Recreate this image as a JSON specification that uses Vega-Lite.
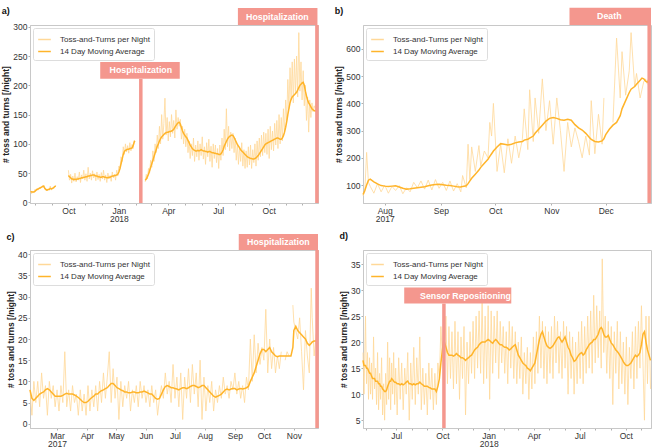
{
"$schema": "https://vega.github.io/schema/vega-lite/v6.json",
"padding": {"left": 1, "top": 6, "right": 3, "bottom": 0},
"background": "white",
"config": {
  "font": "Liberation Sans",
  "view": {"stroke": "#c8c8c8", "strokeWidth": 1},
  "axis": {"labelFontSize": 8.5, "labelColor": "#333333", "titleFontSize": 8.5, "titleFontWeight": "bold", "titleColor": "#222222", "domainColor": "#c8c8c8", "tickColor": "#b0b0b0", "grid": false, "labelLineHeight": 8.5, "labelOverlap": false, "labelFlush": false, "tickCount": 100},
  "axisX": {"tickSize": 2, "labelPadding": 1},
  "axisY": {"tickSize": 2, "labelPadding": 1, "titlePadding": 2, "format": "d"},
  "legend": {"orient": "top-left", "offset": 3, "strokeColor": "#dddddd", "fillColor": "white", "cornerRadius": 2, "padding": 4, "labelFontSize": 8, "labelColor": "#333333", "symbolType": "stroke", "symbolSize": 160, "symbolStrokeWidth": 1.5, "rowPadding": 0, "labelOffset": 8},
  "title": {"fontSize": 9, "fontWeight": "bold", "anchor": "start", "frame": "bounds", "color": "#111111"}
},
"resolve": {"scale": {"x": "independent", "y": "independent", "color": "independent"}, "legend": {"color": "independent"}},
"columns": 2,
"spacing": {"row": 7, "column": 13},
"datasets": {
"a": [
{"date":"2017-07-24","raw":20,"ma":19},{"date":"2017-07-26","raw":15,"ma":18},{"date":"2017-07-28","raw":19,"ma":18},{"date":"2017-07-30","raw":17,"ma":18},{"date":"2017-08-01","raw":22,"ma":19},{"date":"2017-08-03","raw":20,"ma":21},{"date":"2017-08-05","raw":24,"ma":22},{"date":"2017-08-07","raw":21,"ma":23},{"date":"2017-08-09","raw":26,"ma":24},{"date":"2017-08-11","raw":24,"ma":25},{"date":"2017-08-13","raw":27,"ma":26},{"date":"2017-08-15","raw":29,"ma":27},{"date":"2017-08-17","raw":26,"ma":28},{"date":"2017-08-19","raw":23,"ma":24},{"date":"2017-08-21","raw":21,"ma":22},{"date":"2017-08-23","raw":20,"ma":21},{"date":"2017-08-25","raw":23,"ma":22},{"date":"2017-08-27","raw":22,"ma":22},{"date":"2017-08-29","raw":28,"ma":24},{"date":"2017-08-31","raw":21,"ma":23},{"date":"2017-09-02","raw":24,"ma":24},{"date":"2017-09-04","raw":26,"ma":25},{"date":"2017-09-06","raw":27,"ma":27},{"date":"2017-09-08","raw":29,"ma":28},
{"date":"2017-09-20","raw":null,"ma":null},
{"date":"2017-10-01","raw":55,"ma":46},{"date":"2017-10-03","raw":38,"ma":44},{"date":"2017-10-05","raw":48,"ma":42},{"date":"2017-10-07","raw":33,"ma":40},{"date":"2017-10-09","raw":45,"ma":40},{"date":"2017-10-11","raw":36,"ma":39},{"date":"2017-10-13","raw":50,"ma":40},{"date":"2017-10-15","raw":35,"ma":39},{"date":"2017-10-17","raw":44,"ma":40},{"date":"2017-10-19","raw":38,"ma":40},{"date":"2017-10-21","raw":52,"ma":41},{"date":"2017-10-23","raw":34,"ma":41},{"date":"2017-10-25","raw":47,"ma":42},{"date":"2017-10-27","raw":40,"ma":42},{"date":"2017-10-29","raw":55,"ma":43},{"date":"2017-10-31","raw":38,"ma":43},{"date":"2017-11-02","raw":49,"ma":44},{"date":"2017-11-04","raw":36,"ma":44},{"date":"2017-11-06","raw":60,"ma":45},{"date":"2017-11-08","raw":40,"ma":45},{"date":"2017-11-10","raw":50,"ma":46},{"date":"2017-11-12","raw":38,"ma":46},{"date":"2017-11-14","raw":54,"ma":47},{"date":"2017-11-16","raw":42,"ma":47},{"date":"2017-11-18","raw":49,"ma":46},{"date":"2017-11-20","raw":37,"ma":45},{"date":"2017-11-22","raw":52,"ma":45},{"date":"2017-11-24","raw":39,"ma":44},{"date":"2017-11-26","raw":48,"ma":44},{"date":"2017-11-28","raw":36,"ma":43},{"date":"2017-11-30","raw":51,"ma":43},{"date":"2017-12-02","raw":40,"ma":44},{"date":"2017-12-04","raw":55,"ma":44},{"date":"2017-12-06","raw":38,"ma":43},{"date":"2017-12-08","raw":47,"ma":43},{"date":"2017-12-10","raw":34,"ma":42},{"date":"2017-12-12","raw":50,"ma":42},{"date":"2017-12-14","raw":40,"ma":43},{"date":"2017-12-16","raw":46,"ma":43},{"date":"2017-12-18","raw":36,"ma":44},{"date":"2017-12-20","raw":52,"ma":45},{"date":"2017-12-22","raw":42,"ma":45},{"date":"2017-12-24","raw":48,"ma":46},{"date":"2017-12-26","raw":38,"ma":46},{"date":"2017-12-28","raw":55,"ma":47},{"date":"2017-12-30","raw":45,"ma":48},{"date":"2018-01-01","raw":62,"ma":52},{"date":"2018-01-03","raw":58,"ma":58},{"date":"2018-01-05","raw":78,"ma":66},{"date":"2018-01-07","raw":70,"ma":74},{"date":"2018-01-09","raw":95,"ma":82},{"date":"2018-01-11","raw":82,"ma":87},{"date":"2018-01-13","raw":100,"ma":89},{"date":"2018-01-15","raw":86,"ma":90},{"date":"2018-01-17","raw":97,"ma":91},{"date":"2018-01-19","raw":84,"ma":91},{"date":"2018-01-21","raw":102,"ma":92},{"date":"2018-01-23","raw":88,"ma":92},{"date":"2018-01-25","raw":99,"ma":93},{"date":"2018-01-27","raw":92,"ma":97},{"date":"2018-01-29","raw":106,"ma":103},{"date":"2018-01-30","raw":104,"ma":105},
{"date":"2018-02-08","raw":null,"ma":null},
{"date":"2018-02-18","raw":35,"ma":38},{"date":"2018-02-20","raw":48,"ma":40},{"date":"2018-02-22","raw":40,"ma":44},{"date":"2018-02-24","raw":58,"ma":48},{"date":"2018-02-26","raw":50,"ma":54},{"date":"2018-02-28","raw":72,"ma":60},{"date":"2018-03-02","raw":60,"ma":66},{"date":"2018-03-04","raw":88,"ma":72},{"date":"2018-03-06","raw":70,"ma":78},{"date":"2018-03-08","raw":100,"ma":84},{"date":"2018-03-10","raw":85,"ma":90},{"date":"2018-03-12","raw":115,"ma":96},{"date":"2018-03-14","raw":92,"ma":100},{"date":"2018-03-16","raw":130,"ma":105},{"date":"2018-03-18","raw":100,"ma":109},{"date":"2018-03-20","raw":150,"ma":112},{"date":"2018-03-22","raw":108,"ma":114},{"date":"2018-03-24","raw":135,"ma":116},{"date":"2018-03-26","raw":178,"ma":118},{"date":"2018-03-28","raw":115,"ma":119},{"date":"2018-03-30","raw":145,"ma":120},{"date":"2018-04-01","raw":105,"ma":120},{"date":"2018-04-03","raw":138,"ma":121},{"date":"2018-04-05","raw":112,"ma":121},{"date":"2018-04-07","raw":150,"ma":122},{"date":"2018-04-09","raw":118,"ma":123},{"date":"2018-04-11","raw":140,"ma":125},{"date":"2018-04-13","raw":110,"ma":128},{"date":"2018-04-15","raw":158,"ma":131},{"date":"2018-04-17","raw":125,"ma":134},{"date":"2018-04-19","raw":145,"ma":136},{"date":"2018-04-21","raw":130,"ma":137},{"date":"2018-04-23","raw":142,"ma":134},{"date":"2018-04-25","raw":108,"ma":128},{"date":"2018-04-27","raw":130,"ma":122},{"date":"2018-04-29","raw":100,"ma":118},{"date":"2018-05-01","raw":125,"ma":115},{"date":"2018-05-03","raw":95,"ma":112},{"date":"2018-05-05","raw":118,"ma":110},{"date":"2018-05-07","raw":85,"ma":106},{"date":"2018-05-09","raw":105,"ma":102},{"date":"2018-05-11","raw":75,"ma":98},{"date":"2018-05-13","raw":100,"ma":95},{"date":"2018-05-15","raw":80,"ma":92},{"date":"2018-05-17","raw":110,"ma":90},{"date":"2018-05-19","raw":70,"ma":89},{"date":"2018-05-21","raw":98,"ma":88},{"date":"2018-05-23","raw":78,"ma":88},{"date":"2018-05-25","raw":105,"ma":89},{"date":"2018-05-27","raw":72,"ma":88},{"date":"2018-05-29","raw":100,"ma":89},{"date":"2018-05-31","raw":80,"ma":90},{"date":"2018-06-02","raw":112,"ma":89},{"date":"2018-06-04","raw":74,"ma":88},{"date":"2018-06-06","raw":95,"ma":88},{"date":"2018-06-08","raw":65,"ma":87},{"date":"2018-06-10","raw":102,"ma":87},{"date":"2018-06-12","raw":78,"ma":86},{"date":"2018-06-14","raw":108,"ma":87},{"date":"2018-06-16","raw":70,"ma":87},{"date":"2018-06-18","raw":96,"ma":86},{"date":"2018-06-20","raw":60,"ma":85},{"date":"2018-06-22","raw":100,"ma":85},{"date":"2018-06-24","raw":75,"ma":84},{"date":"2018-06-26","raw":98,"ma":84},{"date":"2018-06-28","raw":68,"ma":83},{"date":"2018-06-30","raw":92,"ma":83},{"date":"2018-07-02","raw":58,"ma":82},{"date":"2018-07-04","raw":98,"ma":82},{"date":"2018-07-06","raw":72,"ma":83},{"date":"2018-07-08","raw":110,"ma":86},{"date":"2018-07-10","raw":80,"ma":90},{"date":"2018-07-12","raw":125,"ma":96},{"date":"2018-07-14","raw":90,"ma":100},{"date":"2018-07-16","raw":160,"ma":104},{"date":"2018-07-18","raw":95,"ma":108},{"date":"2018-07-20","raw":130,"ma":111},{"date":"2018-07-22","raw":88,"ma":113},{"date":"2018-07-24","raw":120,"ma":114},{"date":"2018-07-26","raw":92,"ma":115},{"date":"2018-07-28","raw":118,"ma":114},{"date":"2018-07-30","raw":85,"ma":111},{"date":"2018-08-01","raw":110,"ma":107},{"date":"2018-08-03","raw":72,"ma":103},{"date":"2018-08-05","raw":100,"ma":99},{"date":"2018-08-07","raw":65,"ma":96},{"date":"2018-08-09","raw":95,"ma":93},{"date":"2018-08-11","raw":70,"ma":90},{"date":"2018-08-13","raw":102,"ma":88},{"date":"2018-08-15","raw":62,"ma":86},{"date":"2018-08-17","raw":90,"ma":84},{"date":"2018-08-19","raw":58,"ma":82},{"date":"2018-08-21","raw":88,"ma":80},{"date":"2018-08-23","raw":60,"ma":78},{"date":"2018-08-25","raw":95,"ma":77},{"date":"2018-08-27","raw":64,"ma":76},{"date":"2018-08-29","raw":98,"ma":75},{"date":"2018-08-31","raw":58,"ma":75},{"date":"2018-09-02","raw":90,"ma":74},{"date":"2018-09-04","raw":68,"ma":74},{"date":"2018-09-06","raw":100,"ma":75},{"date":"2018-09-08","raw":62,"ma":76},{"date":"2018-09-10","raw":105,"ma":78},{"date":"2018-09-12","raw":72,"ma":80},{"date":"2018-09-14","raw":110,"ma":83},{"date":"2018-09-16","raw":78,"ma":86},{"date":"2018-09-18","raw":115,"ma":89},{"date":"2018-09-20","raw":80,"ma":92},{"date":"2018-09-22","raw":120,"ma":95},{"date":"2018-09-24","raw":85,"ma":98},{"date":"2018-09-26","raw":118,"ma":100},{"date":"2018-09-28","raw":82,"ma":101},{"date":"2018-09-30","raw":125,"ma":102},{"date":"2018-10-02","raw":75,"ma":103},{"date":"2018-10-04","raw":130,"ma":104},{"date":"2018-10-06","raw":90,"ma":105},{"date":"2018-10-08","raw":122,"ma":106},{"date":"2018-10-10","raw":88,"ma":107},{"date":"2018-10-12","raw":135,"ma":108},{"date":"2018-10-14","raw":98,"ma":109},{"date":"2018-10-16","raw":140,"ma":110},{"date":"2018-10-18","raw":92,"ma":110},{"date":"2018-10-20","raw":150,"ma":109},{"date":"2018-10-22","raw":100,"ma":108},{"date":"2018-10-24","raw":145,"ma":108},{"date":"2018-10-26","raw":105,"ma":110},{"date":"2018-10-28","raw":160,"ma":114},{"date":"2018-10-30","raw":118,"ma":120},{"date":"2018-11-01","raw":175,"ma":128},{"date":"2018-11-03","raw":140,"ma":138},{"date":"2018-11-05","raw":210,"ma":150},{"date":"2018-11-07","raw":160,"ma":160},{"date":"2018-11-09","raw":230,"ma":170},{"date":"2018-11-11","raw":175,"ma":176},{"date":"2018-11-13","raw":240,"ma":180},{"date":"2018-11-15","raw":170,"ma":182},{"date":"2018-11-17","raw":245,"ma":184},{"date":"2018-11-19","raw":185,"ma":186},{"date":"2018-11-21","raw":250,"ma":188},{"date":"2018-11-23","raw":180,"ma":192},{"date":"2018-11-25","raw":290,"ma":196},{"date":"2018-11-27","raw":190,"ma":200},{"date":"2018-11-29","raw":240,"ma":202},{"date":"2018-12-01","raw":175,"ma":204},{"date":"2018-12-03","raw":225,"ma":205},{"date":"2018-12-05","raw":165,"ma":200},{"date":"2018-12-07","raw":200,"ma":190},{"date":"2018-12-09","raw":140,"ma":182},{"date":"2018-12-11","raw":180,"ma":175},{"date":"2018-12-13","raw":120,"ma":170},{"date":"2018-12-15","raw":175,"ma":167},{"date":"2018-12-17","raw":145,"ma":163},{"date":"2018-12-19","raw":170,"ma":160},{"date":"2018-12-21","raw":155,"ma":158},{"date":"2018-12-23","raw":165,"ma":157},{"date":"2018-12-25","raw":160,"ma":156},{"date":"2018-12-27","raw":175,"ma":158},{"date":"2018-12-29","raw":150,"ma":150}
],
"b": [
{"date":"2017-07-20","raw":60,"ma":65},{"date":"2017-07-21","raw":75,"ma":80},{"date":"2017-07-22","raw":220,"ma":100},{"date":"2017-07-23","raw":110,"ma":118},{"date":"2017-07-24","raw":95,"ma":122},{"date":"2017-07-26","raw":70,"ma":112},{"date":"2017-07-28","raw":105,"ma":104},{"date":"2017-07-30","raw":75,"ma":98},{"date":"2017-08-01","raw":100,"ma":96},{"date":"2017-08-03","raw":70,"ma":95},{"date":"2017-08-05","raw":95,"ma":96},{"date":"2017-08-07","raw":80,"ma":97},{"date":"2017-08-09","raw":98,"ma":93},{"date":"2017-08-11","raw":68,"ma":88},{"date":"2017-08-13","raw":90,"ma":85},{"date":"2017-08-15","raw":75,"ma":86},{"date":"2017-08-17","raw":110,"ma":88},{"date":"2017-08-19","raw":90,"ma":90},{"date":"2017-08-21","raw":115,"ma":92},{"date":"2017-08-23","raw":85,"ma":94},{"date":"2017-08-25","raw":118,"ma":97},{"date":"2017-08-27","raw":82,"ma":100},{"date":"2017-08-29","raw":120,"ma":102},{"date":"2017-08-31","raw":88,"ma":103},{"date":"2017-09-02","raw":110,"ma":101},{"date":"2017-09-04","raw":80,"ma":99},{"date":"2017-09-06","raw":115,"ma":98},{"date":"2017-09-08","raw":78,"ma":96},{"date":"2017-09-10","raw":105,"ma":94},{"date":"2017-09-12","raw":75,"ma":93},{"date":"2017-09-13","raw":135,"ma":95},{"date":"2017-09-15","raw":90,"ma":97},{"date":"2017-09-16","raw":250,"ma":105},{"date":"2017-09-17","raw":120,"ma":115},{"date":"2017-09-18","raw":240,"ma":125},{"date":"2017-09-20","raw":150,"ma":140},{"date":"2017-09-22","raw":245,"ma":155},{"date":"2017-09-23","raw":170,"ma":165},{"date":"2017-09-25","raw":225,"ma":180},{"date":"2017-09-27","raw":200,"ma":195},{"date":"2017-09-28","raw":330,"ma":205},{"date":"2017-09-29","raw":280,"ma":215},{"date":"2017-09-30","raw":400,"ma":225},{"date":"2017-10-02","raw":150,"ma":240},{"date":"2017-10-04","raw":250,"ma":252},{"date":"2017-10-06","raw":145,"ma":250},{"date":"2017-10-08","raw":270,"ma":247},{"date":"2017-10-10","raw":180,"ma":250},{"date":"2017-10-12","raw":280,"ma":255},{"date":"2017-10-14","raw":200,"ma":258},{"date":"2017-10-16","raw":270,"ma":260},{"date":"2017-10-17","raw":380,"ma":265},{"date":"2017-10-19","raw":230,"ma":268},{"date":"2017-10-20","raw":450,"ma":272},{"date":"2017-10-22","raw":260,"ma":280},{"date":"2017-10-23","raw":420,"ma":290},{"date":"2017-10-25","raw":290,"ma":305},{"date":"2017-10-27","raw":490,"ma":320},{"date":"2017-10-29","raw":300,"ma":335},{"date":"2017-10-31","raw":410,"ma":345},{"date":"2017-11-02","raw":250,"ma":348},{"date":"2017-11-04","raw":420,"ma":345},{"date":"2017-11-06","raw":300,"ma":340},{"date":"2017-11-08","raw":150,"ma":338},{"date":"2017-11-10","raw":330,"ma":342},{"date":"2017-11-12","raw":240,"ma":338},{"date":"2017-11-14","raw":310,"ma":322},{"date":"2017-11-16","raw":260,"ma":310},{"date":"2017-11-18","raw":200,"ma":302},{"date":"2017-11-20","raw":280,"ma":290},{"date":"2017-11-22","raw":210,"ma":275},{"date":"2017-11-23","raw":410,"ma":268},{"date":"2017-11-25","raw":215,"ma":260},{"date":"2017-11-27","raw":360,"ma":258},{"date":"2017-11-29","raw":250,"ma":262},{"date":"2017-11-30","raw":420,"ma":270},{"date":"2017-12-01","raw":null,"ma":285},{"date":"2017-12-03","raw":null,"ma":305},{"date":"2017-12-05","raw":330,"ma":320},{"date":"2017-12-07","raw":640,"ma":330},{"date":"2017-12-09","raw":420,"ma":355},{"date":"2017-12-10","raw":590,"ma":380},{"date":"2017-12-12","raw":430,"ma":410},{"date":"2017-12-14","raw":520,"ma":440},{"date":"2017-12-15","raw":660,"ma":452},{"date":"2017-12-17","raw":460,"ma":462},{"date":"2017-12-18","raw":510,"ma":470},{"date":"2017-12-20","raw":420,"ma":485},{"date":"2017-12-21","raw":450,"ma":493},{"date":"2017-12-22","raw":480,"ma":490},{"date":"2017-12-23","raw":490,"ma":482},{"date":"2017-12-24","raw":470,"ma":478},{"date":"2017-12-25","raw":null,"ma":490}
],
"c": [
{"date":"2017-02-01","raw":8,"ma":8},{"date":"2017-02-03","raw":2,"ma":6},{"date":"2017-02-05","raw":10,"ma":5.5},{"date":"2017-02-07","raw":5,"ma":6},{"date":"2017-02-09","raw":10,"ma":6.5},{"date":"2017-02-11","raw":4,"ma":7},{"date":"2017-02-13","raw":12,"ma":7.3},{"date":"2017-02-15","raw":6,"ma":7.5},{"date":"2017-02-17","raw":9,"ma":8},{"date":"2017-02-19","raw":2,"ma":8.3},{"date":"2017-02-21","raw":10,"ma":8},{"date":"2017-02-23","raw":6,"ma":7.5},{"date":"2017-02-25","raw":9,"ma":7},{"date":"2017-02-27","raw":4,"ma":6.5},{"date":"2017-03-01","raw":8,"ma":6.5},{"date":"2017-03-03","raw":3,"ma":6.5},{"date":"2017-03-05","raw":9,"ma":6.5},{"date":"2017-03-07","raw":5,"ma":6.7},{"date":"2017-03-09","raw":17,"ma":7},{"date":"2017-03-11","raw":4,"ma":7.2},{"date":"2017-03-13","raw":8,"ma":7},{"date":"2017-03-15","raw":3,"ma":7},{"date":"2017-03-17","raw":9,"ma":7},{"date":"2017-03-19","raw":5,"ma":6.8},{"date":"2017-03-21","raw":7,"ma":6.5},{"date":"2017-03-23","raw":2,"ma":6.2},{"date":"2017-03-25","raw":8,"ma":5.8},{"date":"2017-03-27","raw":3,"ma":5.3},{"date":"2017-03-29","raw":7,"ma":5},{"date":"2017-03-31","raw":2,"ma":5},{"date":"2017-04-02","raw":9,"ma":5.3},{"date":"2017-04-04","raw":3,"ma":5.8},{"date":"2017-04-06","raw":8,"ma":6.2},{"date":"2017-04-08","raw":4,"ma":6.5},{"date":"2017-04-10","raw":9,"ma":7},{"date":"2017-04-12","raw":3,"ma":7},{"date":"2017-04-14","raw":10,"ma":7.5},{"date":"2017-04-16","raw":5,"ma":7.8},{"date":"2017-04-18","raw":12,"ma":8},{"date":"2017-04-20","raw":6,"ma":8.3},{"date":"2017-04-22","raw":11,"ma":8.5},{"date":"2017-04-24","raw":17,"ma":9},{"date":"2017-04-26","raw":5,"ma":9.5},{"date":"2017-04-28","raw":13,"ma":9.5},{"date":"2017-04-30","raw":6,"ma":9},{"date":"2017-05-02","raw":11,"ma":8.5},{"date":"2017-05-04","raw":1,"ma":8.3},{"date":"2017-05-06","raw":10,"ma":8},{"date":"2017-05-08","raw":4,"ma":7.8},{"date":"2017-05-10","raw":9,"ma":7.5},{"date":"2017-05-12","raw":6,"ma":7.5},{"date":"2017-05-14","raw":10,"ma":7.3},{"date":"2017-05-16","raw":3,"ma":7.3},{"date":"2017-05-18","raw":8,"ma":7.5},{"date":"2017-05-20","raw":5,"ma":7.5},{"date":"2017-05-22","raw":9,"ma":7.3},{"date":"2017-05-24","raw":4,"ma":7.3},{"date":"2017-05-26","raw":10,"ma":7.5},{"date":"2017-05-28","raw":6,"ma":7.5},{"date":"2017-05-30","raw":9,"ma":7.7},{"date":"2017-06-01","raw":5,"ma":7.5},{"date":"2017-06-03","raw":8,"ma":7.3},{"date":"2017-06-05","raw":4,"ma":7},{"date":"2017-06-07","raw":9,"ma":7},{"date":"2017-06-09","raw":5,"ma":6.5},{"date":"2017-06-11","raw":8,"ma":6},{"date":"2017-06-13","raw":2,"ma":5.8},{"date":"2017-06-15","raw":6,"ma":6},{"date":"2017-06-17","raw":9,"ma":7},{"date":"2017-06-19","raw":6,"ma":8},{"date":"2017-06-21","raw":12,"ma":8.8},{"date":"2017-06-23","raw":7,"ma":9},{"date":"2017-06-25","raw":10,"ma":8.8},{"date":"2017-06-27","raw":5,"ma":8.5},{"date":"2017-06-29","raw":14,"ma":8.5},{"date":"2017-07-01","raw":6,"ma":8.3},{"date":"2017-07-03","raw":11,"ma":8.2},{"date":"2017-07-05","raw":4,"ma":8},{"date":"2017-07-07","raw":12,"ma":8.3},{"date":"2017-07-09","raw":1,"ma":8.5},{"date":"2017-07-11","raw":11,"ma":8.5},{"date":"2017-07-13","raw":6,"ma":8.3},{"date":"2017-07-15","raw":13,"ma":8.5},{"date":"2017-07-17","raw":5,"ma":8.8},{"date":"2017-07-19","raw":14,"ma":9},{"date":"2017-07-21","raw":7,"ma":9},{"date":"2017-07-23","raw":12,"ma":8.8},{"date":"2017-07-25","raw":4,"ma":8.5},{"date":"2017-07-27","raw":15,"ma":8.7},{"date":"2017-07-29","raw":1,"ma":9},{"date":"2017-07-31","raw":11,"ma":9},{"date":"2017-08-02","raw":3,"ma":8.5},{"date":"2017-08-04","raw":9,"ma":8},{"date":"2017-08-06","raw":5,"ma":7.5},{"date":"2017-08-08","raw":10,"ma":7},{"date":"2017-08-10","raw":3,"ma":6.5},{"date":"2017-08-12","raw":8,"ma":6.3},{"date":"2017-08-14","raw":5,"ma":6.5},{"date":"2017-08-16","raw":9,"ma":6.7},{"date":"2017-08-18","raw":6,"ma":7},{"date":"2017-08-20","raw":11,"ma":7.5},{"date":"2017-08-22","raw":7,"ma":8},{"date":"2017-08-24","raw":9,"ma":8.2},{"date":"2017-08-26","raw":6,"ma":8},{"date":"2017-08-28","raw":10,"ma":8.2},{"date":"2017-08-30","raw":8,"ma":8.3},{"date":"2017-09-01","raw":12,"ma":8.3},{"date":"2017-09-03","raw":7,"ma":8},{"date":"2017-09-05","raw":10,"ma":8.2},{"date":"2017-09-07","raw":6,"ma":8.3},{"date":"2017-09-09","raw":9,"ma":8.2},{"date":"2017-09-11","raw":5,"ma":8.3},{"date":"2017-09-13","raw":11,"ma":8.5},{"date":"2017-09-15","raw":8,"ma":8.8},{"date":"2017-09-17","raw":20,"ma":10},{"date":"2017-09-19","raw":10,"ma":11},{"date":"2017-09-21","raw":21,"ma":12},{"date":"2017-09-23","raw":12,"ma":13.5},{"date":"2017-09-25","raw":19,"ma":15},{"date":"2017-09-27","raw":14,"ma":16.5},{"date":"2017-09-29","raw":18,"ma":17.5},{"date":"2017-10-01","raw":15,"ma":17.5},{"date":"2017-10-03","raw":27,"ma":17},{"date":"2017-10-05","raw":12,"ma":17.5},{"date":"2017-10-07","raw":20,"ma":18},{"date":"2017-10-09","raw":13,"ma":17},{"date":"2017-10-11","raw":18,"ma":16.5},{"date":"2017-10-13","raw":12,"ma":16},{"date":"2017-10-15","raw":16,"ma":15.8},{"date":"2017-10-17","raw":13,"ma":16},{"date":"2017-10-19","raw":17,"ma":16},{"date":"2017-10-21","raw":null,"ma":16},{"date":"2017-10-23","raw":15,"ma":16},{"date":"2017-10-25","raw":17,"ma":16},{"date":"2017-10-27","raw":16,"ma":16},{"date":"2017-10-29","raw":null,"ma":16},{"date":"2017-10-31","raw":28,"ma":18},{"date":"2017-11-01","raw":24,"ma":22},{"date":"2017-11-03","raw":22,"ma":23},{"date":"2017-11-05","raw":20,"ma":22},{"date":"2017-11-07","raw":25,"ma":21.5},{"date":"2017-11-09","raw":17,"ma":21},{"date":"2017-11-11","raw":8,"ma":20.5},{"date":"2017-11-13","raw":22,"ma":20},{"date":"2017-11-15","raw":16,"ma":19},{"date":"2017-11-17","raw":12,"ma":18.5},{"date":"2017-11-19","raw":32,"ma":19},{"date":"2017-11-20","raw":25,"ma":19.3},{"date":"2017-11-22","raw":16,"ma":19.5},{"date":"2017-11-24","raw":21,"ma":19.5},{"date":"2017-11-25","raw":22,"ma":20}
],
"d": [
{"date":"2017-04-26","raw":18,"ma":16.5},{"date":"2017-04-28","raw":10,"ma":15.5},{"date":"2017-05-01","raw":25,"ma":15.5},{"date":"2017-05-03","raw":12,"ma":15},{"date":"2017-05-05","raw":18,"ma":15},{"date":"2017-05-07","raw":9,"ma":14.5},{"date":"2017-05-09","raw":17,"ma":14},{"date":"2017-05-11","raw":10,"ma":14},{"date":"2017-05-13","raw":16,"ma":13.5},{"date":"2017-05-15","raw":9,"ma":13},{"date":"2017-05-17","raw":21,"ma":13},{"date":"2017-05-19","raw":11,"ma":13},{"date":"2017-05-21","raw":15,"ma":12.5},{"date":"2017-05-23","raw":8,"ma":12.5},{"date":"2017-05-25","raw":18,"ma":12.5},{"date":"2017-05-27","raw":7,"ma":12},{"date":"2017-05-29","raw":14,"ma":12},{"date":"2017-05-31","raw":9,"ma":11.5},{"date":"2017-06-02","raw":17,"ma":11.5},{"date":"2017-06-04","raw":6,"ma":11},{"date":"2017-06-06","raw":12,"ma":10.8},{"date":"2017-06-08","raw":5,"ma":10.5},{"date":"2017-06-10","raw":14,"ma":10.5},{"date":"2017-06-12","raw":8,"ma":10.8},{"date":"2017-06-14","raw":20,"ma":11.5},{"date":"2017-06-16","raw":9,"ma":12},{"date":"2017-06-18","raw":17,"ma":12.5},{"date":"2017-06-20","raw":7,"ma":12.5},{"date":"2017-06-22","raw":16,"ma":13},{"date":"2017-06-24","raw":10,"ma":12.8},{"date":"2017-06-26","raw":18,"ma":12.5},{"date":"2017-06-28","raw":8,"ma":12.3},{"date":"2017-06-30","raw":15,"ma":12.3},{"date":"2017-07-03","raw":6,"ma":12},{"date":"2017-07-06","raw":17,"ma":12},{"date":"2017-07-09","raw":9,"ma":11.8},{"date":"2017-07-12","raw":16,"ma":12},{"date":"2017-07-15","raw":7,"ma":11.8},{"date":"2017-07-18","raw":15,"ma":12},{"date":"2017-07-21","raw":10,"ma":12.3},{"date":"2017-07-24","raw":18,"ma":12.5},{"date":"2017-07-27","raw":5,"ma":12},{"date":"2017-07-30","raw":16,"ma":12},{"date":"2017-08-02","raw":9,"ma":11.8},{"date":"2017-08-05","raw":19,"ma":12},{"date":"2017-08-08","raw":8,"ma":11.8},{"date":"2017-08-11","raw":17,"ma":12},{"date":"2017-08-14","raw":10,"ma":12},{"date":"2017-08-17","raw":21,"ma":12.3},{"date":"2017-08-20","raw":7,"ma":12},{"date":"2017-08-23","raw":15,"ma":11.8},{"date":"2017-08-26","raw":8,"ma":11.5},{"date":"2017-08-29","raw":14,"ma":11.5},{"date":"2017-09-01","raw":6,"ma":11.5},{"date":"2017-09-04","raw":16,"ma":11.3},{"date":"2017-09-07","raw":9,"ma":11.2},{"date":"2017-09-10","raw":15,"ma":11},{"date":"2017-09-13","raw":7,"ma":11},{"date":"2017-09-16","raw":14,"ma":11},{"date":"2017-09-19","raw":8,"ma":10.5},{"date":"2017-09-22","raw":16,"ma":11.5},{"date":"2017-09-25","raw":13,"ma":13},{"date":"2017-09-28","raw":23,"ma":16},{"date":"2017-10-01","raw":17,"ma":18.5},{"date":"2017-10-03","raw":22,"ma":20},{"date":"2017-10-05","raw":16,"ma":20},{"date":"2017-10-08","raw":25,"ma":19},{"date":"2017-10-11","raw":12,"ma":18},{"date":"2017-10-14","raw":23,"ma":17.5},{"date":"2017-10-17","raw":13,"ma":17.5},{"date":"2017-10-20","raw":22,"ma":17.5},{"date":"2017-10-23","raw":11,"ma":17.3},{"date":"2017-10-26","raw":24,"ma":17.5},{"date":"2017-10-29","raw":12,"ma":17.8},{"date":"2017-11-01","raw":22,"ma":17.5},{"date":"2017-11-04","raw":9,"ma":17.3},{"date":"2017-11-07","raw":21,"ma":17},{"date":"2017-11-10","raw":13,"ma":17},{"date":"2017-11-13","raw":23,"ma":16.8},{"date":"2017-11-16","raw":6,"ma":16.5},{"date":"2017-11-19","raw":20,"ma":16.8},{"date":"2017-11-22","raw":12,"ma":17},{"date":"2017-11-25","raw":22,"ma":17.3},{"date":"2017-11-28","raw":14,"ma":17.5},{"date":"2017-12-01","raw":24,"ma":18},{"date":"2017-12-04","raw":13,"ma":18.5},{"date":"2017-12-07","raw":25,"ma":18.8},{"date":"2017-12-10","raw":15,"ma":19},{"date":"2017-12-13","raw":26,"ma":19.5},{"date":"2017-12-16","raw":14,"ma":19.8},{"date":"2017-12-19","raw":28,"ma":20},{"date":"2017-12-22","raw":12,"ma":20},{"date":"2017-12-25","raw":25,"ma":20},{"date":"2017-12-28","raw":13,"ma":20.3},{"date":"2017-12-31","raw":27,"ma":20.5},{"date":"2018-01-03","raw":9,"ma":20.3},{"date":"2018-01-06","raw":26,"ma":20},{"date":"2018-01-09","raw":14,"ma":19.8},{"date":"2018-01-12","raw":25,"ma":20.2},{"date":"2018-01-15","raw":16,"ma":20.5},{"date":"2018-01-18","raw":26,"ma":20.2},{"date":"2018-01-21","raw":13,"ma":19.8},{"date":"2018-01-24","raw":24,"ma":19.5},{"date":"2018-01-27","raw":16,"ma":19.5},{"date":"2018-01-30","raw":23,"ma":19.2},{"date":"2018-02-02","raw":14,"ma":19},{"date":"2018-02-05","raw":22,"ma":19},{"date":"2018-02-08","raw":12,"ma":18.8},{"date":"2018-02-11","raw":24,"ma":18.5},{"date":"2018-02-14","raw":15,"ma":18.7},{"date":"2018-02-17","raw":23,"ma":19},{"date":"2018-02-20","raw":13,"ma":19.3},{"date":"2018-02-23","raw":22,"ma":19.5},{"date":"2018-02-26","raw":12,"ma":18.5},{"date":"2018-03-01","raw":20,"ma":17.5},{"date":"2018-03-04","raw":13,"ma":17},{"date":"2018-03-07","raw":21,"ma":16.5},{"date":"2018-03-10","raw":10,"ma":16},{"date":"2018-03-13","raw":18,"ma":15.7},{"date":"2018-03-16","raw":12,"ma":15.5},{"date":"2018-03-19","raw":19,"ma":15},{"date":"2018-03-22","raw":9,"ma":14.8},{"date":"2018-03-25","raw":18,"ma":14.5},{"date":"2018-03-28","raw":11,"ma":15},{"date":"2018-03-31","raw":21,"ma":15.5},{"date":"2018-04-03","raw":12,"ma":16},{"date":"2018-04-06","raw":22,"ma":17.5},{"date":"2018-04-09","raw":14,"ma":19},{"date":"2018-04-12","raw":25,"ma":20.5},{"date":"2018-04-15","raw":15,"ma":21.5},{"date":"2018-04-18","raw":24,"ma":22},{"date":"2018-04-21","raw":13,"ma":21},{"date":"2018-04-24","raw":23,"ma":20},{"date":"2018-04-27","raw":12,"ma":19.3},{"date":"2018-04-30","raw":22,"ma":19},{"date":"2018-05-03","raw":14,"ma":18.8},{"date":"2018-05-06","raw":23,"ma":19},{"date":"2018-05-09","raw":13,"ma":19.3},{"date":"2018-05-12","raw":25,"ma":19.8},{"date":"2018-05-15","raw":16,"ma":20.3},{"date":"2018-05-18","raw":24,"ma":20.8},{"date":"2018-05-21","raw":14,"ma":21},{"date":"2018-05-24","raw":22,"ma":20.5},{"date":"2018-05-27","raw":13,"ma":20},{"date":"2018-05-30","raw":24,"ma":20.5},{"date":"2018-06-02","raw":15,"ma":21},{"date":"2018-06-05","raw":23,"ma":20},{"date":"2018-06-08","raw":10,"ma":19},{"date":"2018-06-11","raw":22,"ma":18.5},{"date":"2018-06-14","raw":13,"ma":17.5},{"date":"2018-06-17","raw":21,"ma":17},{"date":"2018-06-20","raw":10,"ma":16.3},{"date":"2018-06-23","raw":20,"ma":16.5},{"date":"2018-06-26","raw":12,"ma":17},{"date":"2018-06-29","raw":22,"ma":17.5},{"date":"2018-07-02","raw":13,"ma":17.8},{"date":"2018-07-05","raw":24,"ma":18},{"date":"2018-07-08","raw":12,"ma":17.5},{"date":"2018-07-11","raw":23,"ma":17.8},{"date":"2018-07-14","raw":14,"ma":18.5},{"date":"2018-07-17","raw":25,"ma":19},{"date":"2018-07-20","raw":15,"ma":19.5},{"date":"2018-07-23","raw":26,"ma":19.8},{"date":"2018-07-26","raw":14,"ma":20},{"date":"2018-07-29","raw":29,"ma":20.5},{"date":"2018-08-01","raw":16,"ma":20.5},{"date":"2018-08-04","raw":27,"ma":21},{"date":"2018-08-07","raw":17,"ma":21.5},{"date":"2018-08-10","raw":26,"ma":22.5},{"date":"2018-08-13","raw":15,"ma":22.8},{"date":"2018-08-15","raw":36,"ma":22.5},{"date":"2018-08-18","raw":18,"ma":21.5},{"date":"2018-08-21","raw":25,"ma":21},{"date":"2018-08-24","raw":14,"ma":21},{"date":"2018-08-27","raw":24,"ma":21.3},{"date":"2018-08-30","raw":13,"ma":20.5},{"date":"2018-09-02","raw":23,"ma":19.8},{"date":"2018-09-05","raw":8,"ma":19.5},{"date":"2018-09-08","raw":22,"ma":19},{"date":"2018-09-11","raw":14,"ma":18.5},{"date":"2018-09-14","raw":24,"ma":18.2},{"date":"2018-09-17","raw":11,"ma":17.8},{"date":"2018-09-20","raw":22,"ma":17.3},{"date":"2018-09-23","raw":12,"ma":16.8},{"date":"2018-09-26","raw":20,"ma":16.2},{"date":"2018-09-29","raw":10,"ma":15.8},{"date":"2018-10-02","raw":21,"ma":15.5},{"date":"2018-10-05","raw":8,"ma":15.5},{"date":"2018-10-08","raw":19,"ma":15.7},{"date":"2018-10-11","raw":13,"ma":16},{"date":"2018-10-14","raw":22,"ma":16.5},{"date":"2018-10-17","raw":11,"ma":17},{"date":"2018-10-20","raw":23,"ma":17.5},{"date":"2018-10-23","raw":13,"ma":17.2},{"date":"2018-10-26","raw":24,"ma":17.5},{"date":"2018-10-29","raw":15,"ma":18},{"date":"2018-11-01","raw":27,"ma":19.5},{"date":"2018-11-04","raw":16,"ma":21.5},{"date":"2018-11-07","raw":5,"ma":22},{"date":"2018-11-10","raw":25,"ma":20},{"date":"2018-11-13","raw":12,"ma":18.5},{"date":"2018-11-16","raw":25,"ma":17.5},{"date":"2018-11-19","raw":11,"ma":16.5}
]
},
"concat": [
{
 "title": {"text": "a)", "offset": -8},
 "width": 288, "height": 178,
 "data": {"name": "a"},
 "layer": [
  {"mark": {"type": "line", "strokeWidth": 0.8, "invalid": "break-paths-show-domains"},
   "encoding": {
    "x": {"field": "date", "type": "temporal", "title": null, "scale": {"type": "utc", "domain": [{"year": 2017, "month": 7, "date": 23, "utc": true}, {"year": 2018, "month": 12, "date": 30, "utc": true}]},
      "axis": {"tickCount": 100, "labelOverlap": false, "values": [{"year":2017,"month":8,"date":1,"utc":true},{"year":2017,"month":9,"date":1,"utc":true},{"year":2017,"month":10,"date":1,"utc":true},{"year":2017,"month":11,"date":1,"utc":true},{"year":2017,"month":12,"date":1,"utc":true},{"year":2018,"month":1,"date":1,"utc":true},{"year":2018,"month":2,"date":1,"utc":true},{"year":2018,"month":3,"date":1,"utc":true},{"year":2018,"month":4,"date":1,"utc":true},{"year":2018,"month":5,"date":1,"utc":true},{"year":2018,"month":6,"date":1,"utc":true},{"year":2018,"month":7,"date":1,"utc":true},{"year":2018,"month":8,"date":1,"utc":true},{"year":2018,"month":9,"date":1,"utc":true},{"year":2018,"month":10,"date":1,"utc":true},{"year":2018,"month":11,"date":1,"utc":true},{"year":2018,"month":12,"date":1,"utc":true}],
       "labelExpr": "utcmonth(datum.value) % 3 == 0 ? (utcmonth(datum.value) == 0 ? [utcFormat(datum.value, '%b'), utcFormat(datum.value, '%Y')] : utcFormat(datum.value, '%b')) : ''"}},
    "y": {"field": "raw", "type": "quantitative", "title": "# toss and turns [/night]", "scale": {"domain": [-1, 303], "nice": false, "zero": false}, "axis": {"tickCount": 100, "labelOverlap": false, "format": "d", "values": [0, 50, 100, 150, 200, 250, 300]}},
    "color": {"datum": "Toss-and-Turns per Night", "type": "nominal", "scale": {"domain": ["Toss-and-Turns per Night", "14 Day Moving Average"], "range": ["#ffd898", "#ffb42a"]}, "legend": {"title": null}}
   }},
  {"mark": {"type": "line", "strokeWidth": 1.5, "invalid": "break-paths-show-domains"},
   "encoding": {"x": {"field": "date", "type": "temporal", "title": null}, "y": {"field": "ma", "type": "quantitative", "title": "# toss and turns [/night]"}, "color": {"datum": "14 Day Moving Average", "type": "nominal"}}},
  {"data": {"values": [{"date": "2018-02-10", "label": "Hospitalization"}]},
   "layer": [
    {"mark": {"type": "rule", "color": "#f4978e", "strokeWidth": 3.5}, "encoding": {"x": {"field": "date", "type": "temporal"}, "y": {"datum": 211}, "y2": {"datum": -1}}},
    {"mark": {"type": "rect", "color": "#f4978e"}, "encoding": {"x": {"datum": {"year": 2017, "month": 11, "date": 28, "utc": true}, "type": "temporal"}, "x2": {"datum": {"year": 2018, "month": 4, "date": 22, "utc": true}}, "y": {"datum": 240}, "y2": {"datum": 211}}},
    {"mark": {"type": "text", "color": "white", "fontWeight": "bold", "fontSize": 8.8, "align": "center", "baseline": "middle"}, "encoding": {"x": {"field": "date", "type": "temporal"}, "y": {"datum": 225.5}, "text": {"field": "label"}}}
   ]},
  {"data": {"values": [{"date": "2018-12-28", "label": "Hospitalization"}]},
   "layer": [
    {"mark": {"type": "rule", "color": "#f4978e", "strokeWidth": 3.5}, "encoding": {"x": {"field": "date", "type": "temporal"}, "y": {"datum": 303}, "y2": {"datum": -1}}},
    {"mark": {"type": "rect", "color": "#f4978e"}, "encoding": {"x": {"datum": {"year": 2018, "month": 8, "date": 6, "utc": true}, "type": "temporal"}, "x2": {"datum": {"year": 2018, "month": 12, "date": 29, "utc": true}}, "y": {"datum": 332}, "y2": {"datum": 303}}},
    {"mark": {"type": "text", "color": "white", "fontWeight": "bold", "fontSize": 8.8, "align": "center", "baseline": "middle"}, "encoding": {"x": {"datum": {"year": 2018, "month": 10, "date": 17, "utc": true}, "type": "temporal"}, "y": {"datum": 317.5}, "text": {"field": "label"}}}
   ]}
 ]
},
{
 "title": {"text": "b)", "offset": -8},
 "width": 288, "height": 178,
 "data": {"name": "b"},
 "layer": [
  {"mark": {"type": "line", "strokeWidth": 0.8, "invalid": "break-paths-show-domains"},
   "encoding": {
    "x": {"field": "date", "type": "temporal", "title": null, "scale": {"type": "utc", "domain": [{"year": 2017, "month": 7, "date": 20, "utc": true}, {"year": 2017, "month": 12, "date": 26, "utc": true}]},
      "axis": {"tickCount": 100, "labelOverlap": false, "values": [{"year":2017,"month":8,"date":1,"utc":true},{"year":2017,"month":9,"date":1,"utc":true},{"year":2017,"month":10,"date":1,"utc":true},{"year":2017,"month":11,"date":1,"utc":true},{"year":2017,"month":12,"date":1,"utc":true}],
       "labelExpr": "utcmonth(datum.value) == 7 ? [utcFormat(datum.value, '%b'), utcFormat(datum.value, '%Y')] : utcFormat(datum.value, '%b')"}},
    "y": {"field": "raw", "type": "quantitative", "title": "# toss and turns [/night]", "scale": {"domain": [34, 688], "nice": false, "zero": false}, "axis": {"tickCount": 100, "labelOverlap": false, "format": "d", "values": [100, 200, 300, 400, 500, 600]}},
    "color": {"datum": "Toss-and-Turns per Night", "type": "nominal", "scale": {"domain": ["Toss-and-Turns per Night", "14 Day Moving Average"], "range": ["#ffd898", "#ffb42a"]}, "legend": {"title": null}}
   }},
  {"mark": {"type": "line", "strokeWidth": 1.5, "invalid": "break-paths-show-domains"},
   "encoding": {"x": {"field": "date", "type": "temporal", "title": null}, "y": {"field": "ma", "type": "quantitative", "title": "# toss and turns [/night]"}, "color": {"datum": "14 Day Moving Average", "type": "nominal"}}},
  {"data": {"values": [{"date": "2017-12-25", "label": "Death"}]},
   "layer": [
    {"mark": {"type": "rule", "color": "#f4978e", "strokeWidth": 3.5}, "encoding": {"x": {"field": "date", "type": "temporal"}, "y": {"datum": 688}, "y2": {"datum": 34}}},
    {"mark": {"type": "rect", "color": "#f4978e"}, "encoding": {"x": {"datum": {"year": 2017, "month": 11, "date": 11, "utc": true}, "type": "temporal"}, "x2": {"datum": {"year": 2017, "month": 12, "date": 26, "utc": true}}, "y": {"datum": 751}, "y2": {"datum": 688}}},
    {"mark": {"type": "text", "color": "white", "fontWeight": "bold", "fontSize": 8.8, "align": "center", "baseline": "middle"}, "encoding": {"x": {"datum": {"year": 2017, "month": 12, "date": 3, "utc": true}, "type": "temporal"}, "y": {"datum": 719.5}, "text": {"field": "label"}}}
   ]}
 ]
},
{
 "title": {"text": "c)", "offset": -8},
 "width": 288, "height": 178,
 "data": {"name": "c"},
 "layer": [
  {"mark": {"type": "line", "strokeWidth": 0.8, "invalid": "break-paths-show-domains"},
   "encoding": {
    "x": {"field": "date", "type": "temporal", "title": null, "scale": {"type": "utc", "domain": [{"year": 2017, "month": 2, "date": 1, "utc": true}, {"year": 2017, "month": 11, "date": 26, "utc": true}]},
      "axis": {"tickCount": 100, "labelOverlap": false, "values": [{"year":2017,"month":3,"date":1,"utc":true},{"year":2017,"month":4,"date":1,"utc":true},{"year":2017,"month":5,"date":1,"utc":true},{"year":2017,"month":6,"date":1,"utc":true},{"year":2017,"month":7,"date":1,"utc":true},{"year":2017,"month":8,"date":1,"utc":true},{"year":2017,"month":9,"date":1,"utc":true},{"year":2017,"month":10,"date":1,"utc":true},{"year":2017,"month":11,"date":1,"utc":true}],
       "labelExpr": "utcmonth(datum.value) == 2 ? [utcFormat(datum.value, '%b'), utcFormat(datum.value, '%Y')] : utcFormat(datum.value, '%b')"}},
    "y": {"field": "raw", "type": "quantitative", "title": "# toss and turns [/night]", "scale": {"domain": [-1, 41], "nice": false, "zero": false}, "axis": {"tickCount": 100, "labelOverlap": false, "format": "d", "values": [0, 5, 10, 15, 20, 25, 30, 35, 40]}},
    "color": {"datum": "Toss-and-Turns per Night", "type": "nominal", "scale": {"domain": ["Toss-and-Turns per Night", "14 Day Moving Average"], "range": ["#ffd898", "#ffb42a"]}, "legend": {"title": null}}
   }},
  {"mark": {"type": "line", "strokeWidth": 1.5, "invalid": "break-paths-show-domains"},
   "encoding": {"x": {"field": "date", "type": "temporal", "title": null}, "y": {"field": "ma", "type": "quantitative", "title": "# toss and turns [/night]"}, "color": {"datum": "14 Day Moving Average", "type": "nominal"}}},
  {"data": {"values": [{"date": "2017-11-25", "label": "Hospitalization"}]},
   "layer": [
    {"mark": {"type": "rule", "color": "#f4978e", "strokeWidth": 3.5}, "encoding": {"x": {"field": "date", "type": "temporal"}, "y": {"datum": 41}, "y2": {"datum": -1}}},
    {"mark": {"type": "rect", "color": "#f4978e"}, "encoding": {"x": {"datum": {"year": 2017, "month": 9, "date": 5, "utc": true}, "type": "temporal"}, "x2": {"datum": {"year": 2017, "month": 11, "date": 26, "utc": true}}, "y": {"datum": 44.8}, "y2": {"datum": 41}}},
    {"mark": {"type": "text", "color": "white", "fontWeight": "bold", "fontSize": 8.8, "align": "center", "baseline": "middle"}, "encoding": {"x": {"datum": {"year": 2017, "month": 10, "date": 16, "utc": true}, "type": "temporal"}, "y": {"datum": 42.9}, "text": {"field": "label"}}}
   ]}
 ]
},
{
 "title": {"text": "d)", "offset": 9},
 "width": 288, "height": 178,
 "data": {"name": "d"},
 "layer": [
  {"mark": {"type": "line", "strokeWidth": 0.8, "invalid": "break-paths-show-domains"},
   "encoding": {
    "x": {"field": "date", "type": "temporal", "title": null, "scale": {"type": "utc", "domain": [{"year": 2017, "month": 4, "date": 26, "utc": true}, {"year": 2018, "month": 11, "date": 20, "utc": true}]},
      "axis": {"tickCount": 100, "labelOverlap": false, "values": [{"year":2017,"month":5,"date":1,"utc":true},{"year":2017,"month":6,"date":1,"utc":true},{"year":2017,"month":7,"date":1,"utc":true},{"year":2017,"month":8,"date":1,"utc":true},{"year":2017,"month":9,"date":1,"utc":true},{"year":2017,"month":10,"date":1,"utc":true},{"year":2017,"month":11,"date":1,"utc":true},{"year":2017,"month":12,"date":1,"utc":true},{"year":2018,"month":1,"date":1,"utc":true},{"year":2018,"month":2,"date":1,"utc":true},{"year":2018,"month":3,"date":1,"utc":true},{"year":2018,"month":4,"date":1,"utc":true},{"year":2018,"month":5,"date":1,"utc":true},{"year":2018,"month":6,"date":1,"utc":true},{"year":2018,"month":7,"date":1,"utc":true},{"year":2018,"month":8,"date":1,"utc":true},{"year":2018,"month":9,"date":1,"utc":true},{"year":2018,"month":10,"date":1,"utc":true},{"year":2018,"month":11,"date":1,"utc":true}],
       "labelExpr": "utcmonth(datum.value) % 3 == 0 ? (utcmonth(datum.value) == 0 ? [utcFormat(datum.value, '%b'), utcFormat(datum.value, '%Y')] : utcFormat(datum.value, '%b')) : ''"}},
    "y": {"field": "raw", "type": "quantitative", "title": "# toss and turns [/night]", "scale": {"domain": [3.5, 37.7], "nice": false, "zero": false}, "axis": {"tickCount": 100, "labelOverlap": false, "format": "d", "values": [5, 10, 15, 20, 25, 30, 35]}},
    "color": {"datum": "Toss-and-Turns per Night", "type": "nominal", "scale": {"domain": ["Toss-and-Turns per Night", "14 Day Moving Average"], "range": ["#ffd898", "#ffb42a"]}, "legend": {"title": null}}
   }},
  {"mark": {"type": "line", "strokeWidth": 1.5, "invalid": "break-paths-show-domains"},
   "encoding": {"x": {"field": "date", "type": "temporal", "title": null}, "y": {"field": "ma", "type": "quantitative", "title": "# toss and turns [/night]"}, "color": {"datum": "14 Day Moving Average", "type": "nominal"}}},
  {"data": {"values": [{"date": "2017-10-04", "label": "Sensor Repositioning"}]},
   "layer": [
    {"mark": {"type": "rule", "color": "#f4978e", "strokeWidth": 3.5}, "encoding": {"x": {"field": "date", "type": "temporal"}, "y": {"datum": 27.4}, "y2": {"datum": 3.5}}},
    {"mark": {"type": "rect", "color": "#f4978e"}, "encoding": {"x": {"datum": {"year": 2017, "month": 7, "date": 17, "utc": true}, "type": "temporal"}, "x2": {"datum": {"year": 2018, "month": 2, "date": 15, "utc": true}}, "y": {"datum": 30.5}, "y2": {"datum": 27.4}}},
    {"mark": {"type": "text", "color": "white", "fontWeight": "bold", "fontSize": 8.8, "align": "center", "baseline": "middle"}, "encoding": {"x": {"datum": {"year": 2017, "month": 11, "date": 16, "utc": true}, "type": "temporal"}, "y": {"datum": 28.95}, "text": {"field": "label"}}}
   ]}
 ]
}
]
}
